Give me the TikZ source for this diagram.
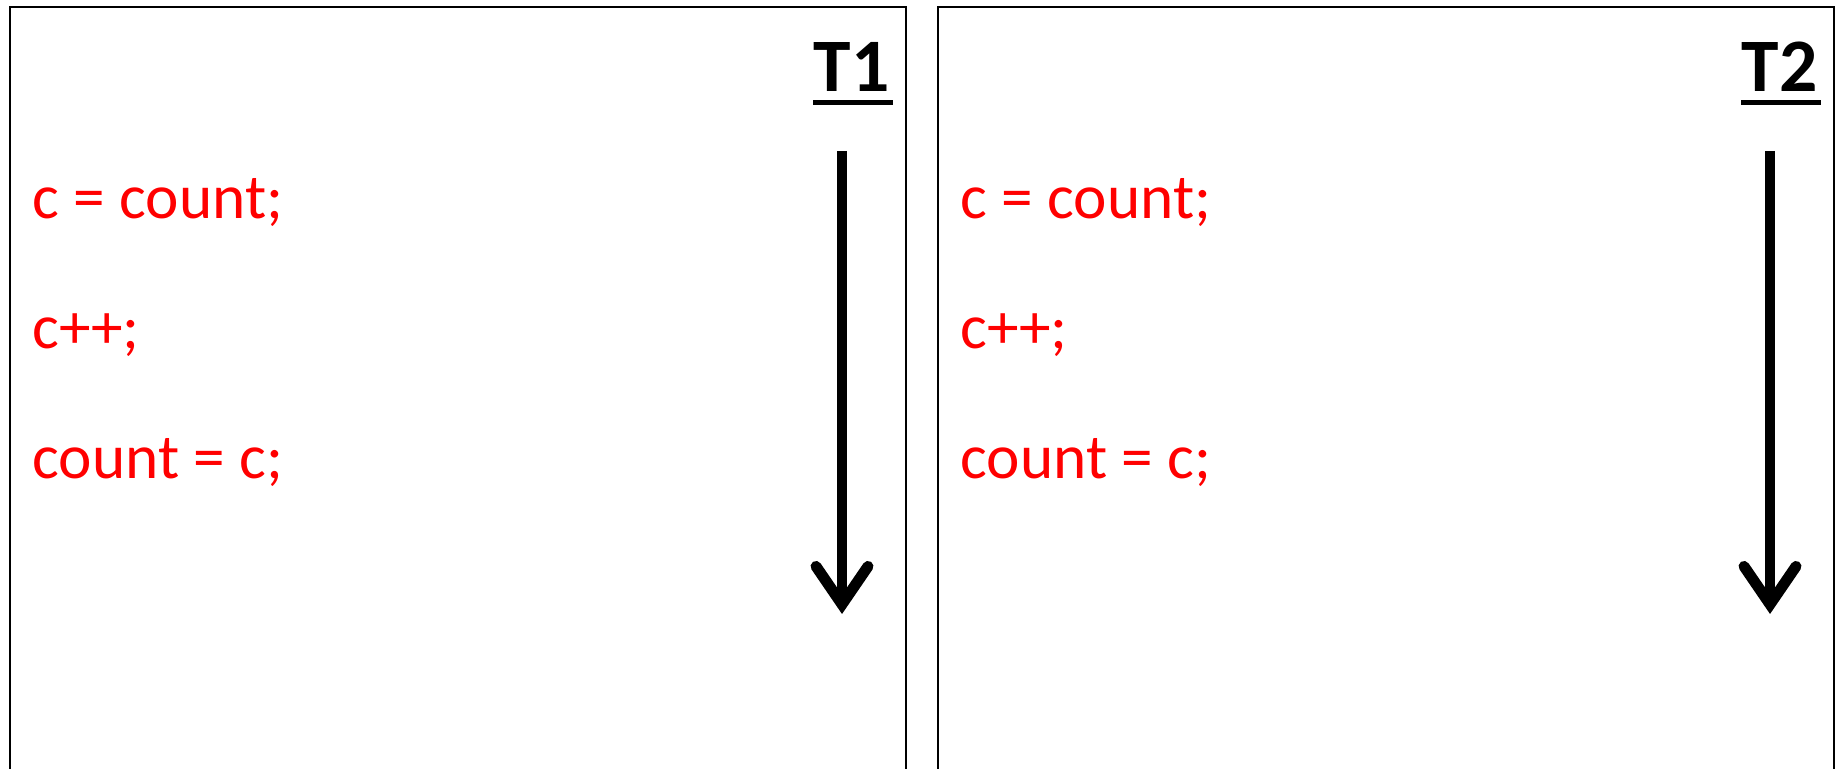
\documentclass[tikz,border=0pt]{standalone}
\usepackage{fontspec}
\setmainfont{Carlito}
\definecolor{codered}{RGB}{255, 0, 0}
\usetikzlibrary{
    arrows.meta,
    positioning
}

\begin{document}
\begin{tikzpicture}[
            code/.style={font=\fontsize{18}{22}\selectfont, text=codered, inner sep=0pt, anchor=base west},
            thread/.style={font=\fontsize{21.5}{26}\selectfont\bfseries, inner sep=0pt, anchor=base west},
            timeline/.style={line width=3.1pt, -{Straight Barb[length=3.8mm, width=5.2mm, line cap=round, line join=miter]}}]

    % Page
    \useasboundingbox (0,0) rectangle (18.43,-7.69);

    \foreach \t/\x in {1/0, 2/9.28} {
        \begin{scope}[xshift=\x cm]
            % Panel
            \draw[line width=0.6pt] (0.10,-7.69) |- (9.06,-0.07) -- (9.06,-7.69);

            % Thread name
            \node[thread] (t\t) at (8.13,-0.92) {T\t};
            \draw[line width=1.4pt] ([yshift=-1mm]t\t.south west) -- ([yshift=-1mm, xshift=0.3mm]t\t.south east);

            % Time
            \coordinate (start\t) at (8.42,-1.51);
            \coordinate (stop\t) at (8.42,-6.14);
            \draw[timeline] (start\t) -- (stop\t);

            % Code
            \node[code] (read\t) at (0.32,-2.19) {c = count;};
            \node[code, below=1.3cm of read\t.base west, anchor=base west] (incr\t) {c++;};
            \node[code, below=1.3cm of incr\t.base west, anchor=base west] (write\t) {count = c;};
        \end{scope}
    }
\end{tikzpicture}
\end{document}
